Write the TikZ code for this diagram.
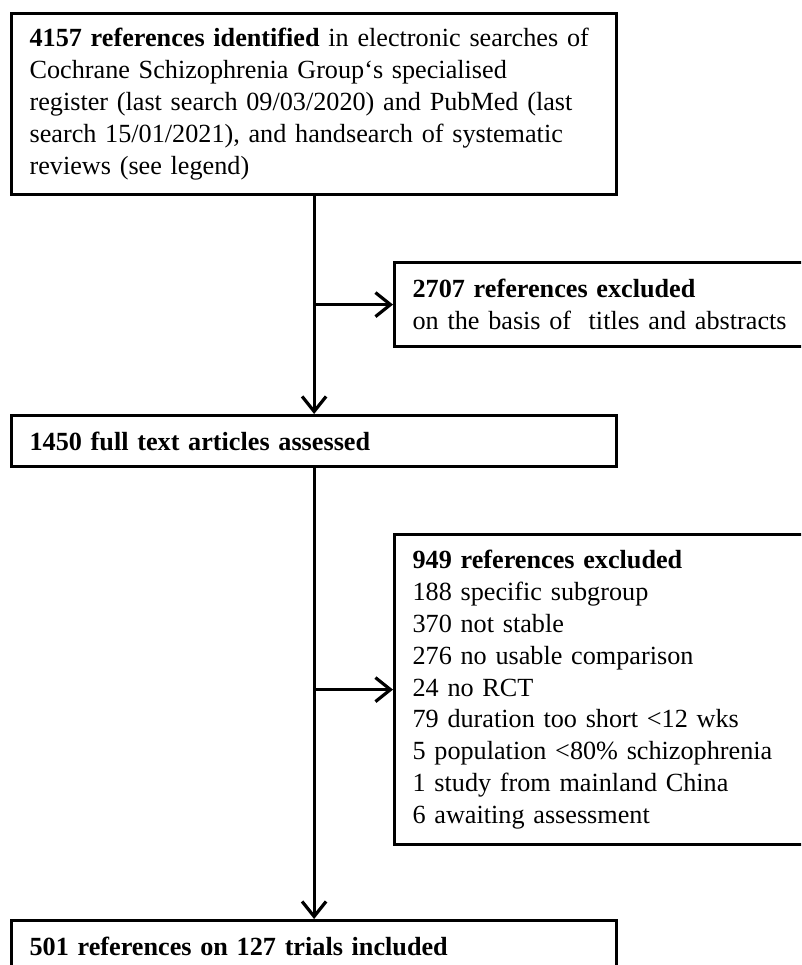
\documentclass[tikz,border=0pt]{standalone}
\usepackage{fontspec}
\setmainfont{Liberation Serif}
\usetikzlibrary{arrows.meta}

\begin{document}
\begin{tikzpicture}
  [x=1pt,y=-1pt,line width=3.2pt,
   every node/.style={draw,rectangle,anchor=north west,align=left,inner xsep=18pt,inner ysep=6pt,
     font=\fontsize{26.2}{31.8}\selectfont},
   lbox/.style={text width=569pt,minimum height=#1},
   rbox/.style={text width=400pt,minimum height=#1},
   arr/.style={-{Straight Barb[length=15pt,width=24pt]}}]
  \useasboundingbox (0,0) rectangle (801,965);
  \clip (0,0) rectangle (801,965);

  \node[lbox=181pt] (id) at (10,12) {\textbf{4157 references identified} in electronic searches of\\
    Cochrane Schizophrenia Group‘s specialised\\
    register (last search 09/03/2020) and PubMed (last\\
    search 15/01/2021), and handsearch of systematic\\
    reviews (see legend)};
  \node[rbox=84pt] (ex1) at (393,261) {\textbf{2707 references excluded}\\
    on the basis of\ \ titles and abstracts};
  \node[lbox=51pt] (ft) at (10,414) {\textbf{1450 full text articles assessed}};
  \node[rbox=310pt] (ex2) at (393,533) {\textbf{949 references excluded}\\
    188 specific subgroup\\
    370 not stable\\
    276 no usable comparison\\
    24 no RCT\\
    79 duration too short <12 wks\\
    5 population <80\% schizophrenia\\
    1 study from mainland China\\
    6 awaiting assessment};
  \node[lbox=51pt] (inc) at (10,919) {\textbf{501 references on 127 trials included}};

  \coordinate (j1) at (id.south |- ex1.west);
  \coordinate (j2) at (ft.south |- ex2.west);

  \draw[arr] (id.south) -- (ft.north);
  \draw[arr] (j1) -- (ex1.west);

  \draw[arr] (ft.south) -- (inc.north);
  \draw[arr] (j2) -- (ex2.west);
\end{tikzpicture}
\end{document}
